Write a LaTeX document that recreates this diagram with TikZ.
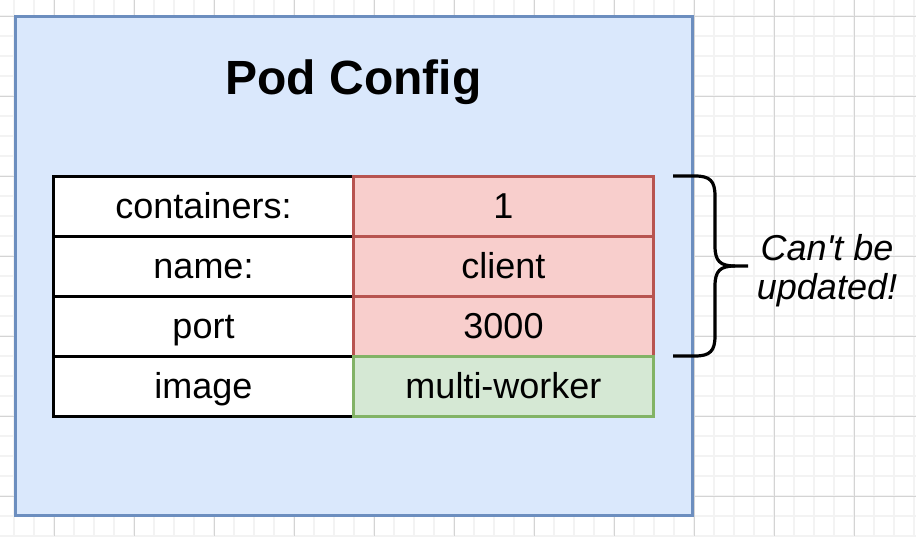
\documentclass[tikz,border=0pt]{standalone}
\usepackage{fontspec}
\setmainfont{Liberation Sans}
\definecolor{gridminor}{HTML}{F3F3F3}
\definecolor{gridmajor}{HTML}{D4D4D4}
\definecolor{bluefill}{HTML}{DAE8FC}
\definecolor{bluestroke}{HTML}{6C8EBF}
\definecolor{redfill}{HTML}{F8CECC}
\definecolor{redstroke}{HTML}{B85450}
\definecolor{greenfill}{HTML}{D5E8D4}
\definecolor{greenstroke}{HTML}{82B366}
\tikzset{
  cellbase/.style={rectangle, line width=3pt, minimum width=300pt, minimum height=60pt,
    inner sep=0pt, text height=25.5pt, text depth=0pt,
    font=\fontsize{36}{42}\selectfont},
  keycell/.style={cellbase, draw=black, fill=white},
  fixedcell/.style={cellbase, draw=redstroke, fill=redfill},
  freecell/.style={cellbase, draw=greenstroke, fill=greenfill},
  podbox/.style={draw=bluestroke, fill=bluefill, line width=3pt},
  bracestyle/.style={draw=black, line width=3.2pt},
  notetext/.style={font=\fontsize{36}{40}\selectfont\itshape, anchor=base},
}
\begin{document}
\begin{tikzpicture}[x=1pt, y=-1pt]
\useasboundingbox (0,0) rectangle (916,536);
\fill[white] (0,0) rectangle (916,536);
% grid
\foreach \gx in {14,34,...,914} \draw[gridminor, line width=2pt] (\gx,0) -- (\gx,536);
\foreach \gy in {16,36,...,536} \draw[gridminor, line width=2pt] (0,\gy) -- (916,\gy);
\foreach \gx in {54,134,...,914} \draw[gridmajor, line width=1pt] (\gx,0) -- (\gx,536);
\foreach \gy in {16,96,...,536} \draw[gridmajor, line width=1pt] (0,\gy) -- (916,\gy);
% pod box
\draw[podbox] (15.5,16.5) rectangle (692,515);
\node[font=\fontsize{48}{56}\selectfont\bfseries, anchor=base] (title) at (353.5,94) {Pod Config};
% key column
\node[keycell] (k1) at (203.5,206) {containers:};
\node[keycell] (k2) at (203.5,266) {name:};
\node[keycell] (k3) at (203.5,326) {port};
\node[keycell] (k4) at (203.5,386) {image};
% value column
\node[fixedcell] (v1) at (503.5,206) {1};
\node[fixedcell] (v2) at (503.5,266) {client};
\node[fixedcell] (v3) at (503.5,326) {3000};
\node[freecell] (v4) at (503.5,386) {multi-worker};
% brace
\coordinate (bt) at (673,176);
\coordinate (bb) at (673,356);
\coordinate (tip) at (748,266);
\draw[bracestyle] (bt) -- (695,176) .. controls (710,176) and (715,181) .. (715,196)
  -- (715,246) .. controls (715,261) and (720,266) .. (735,266) -- (tip);
\draw[bracestyle] (735,266) .. controls (720,266) and (715,271) .. (715,286)
  -- (715,336) .. controls (715,351) and (710,356) .. (695,356) -- (bb);
\node[notetext] (note1) at (827,260) {Can\textquotesingle t be};
\node[notetext] (note2) at (827,299) {updated!};
\end{tikzpicture}
\end{document}
